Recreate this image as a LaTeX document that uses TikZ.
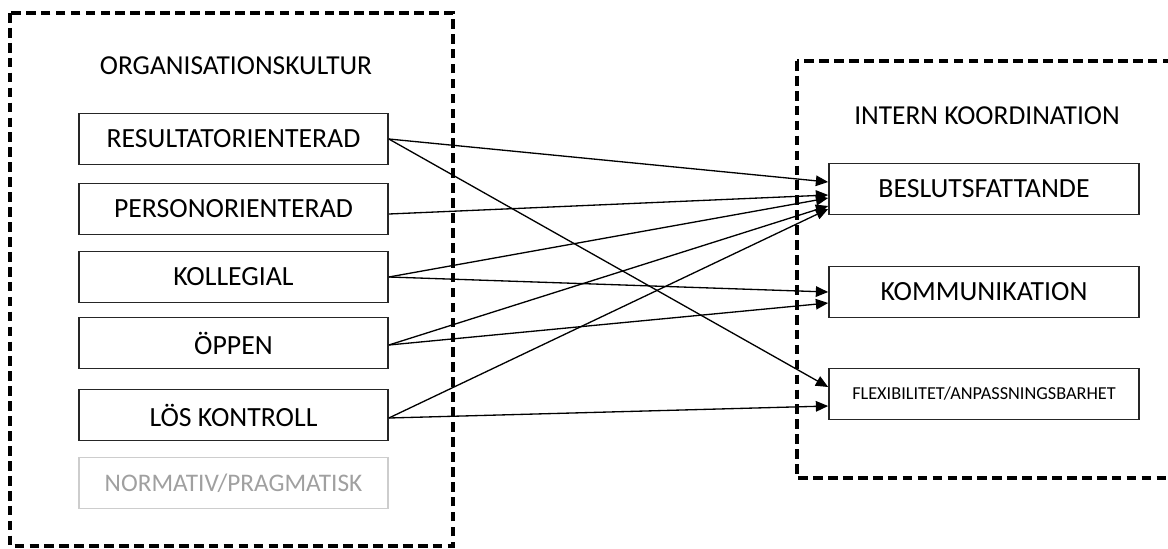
\documentclass[tikz,border=0pt]{standalone}
\usepackage{fontspec}
\setmainfont{Carlito}
\usetikzlibrary{arrows.meta,calc}
\definecolor{lightgrayborder}{RGB}{205,205,205}
\definecolor{graytext}{RGB}{160,160,160}
\tikzset{
  groupbox/.style={draw=black, line width=1.8pt, dash pattern=on 5.5pt off 3pt},
  itembox/.style={draw=black!85, line width=1pt, minimum width=6.18cm, minimum height=1.02cm, inner sep=0pt, font=\fontsize{15.8}{18}\selectfont},
  targetbox/.style={draw=black!85, line width=1pt, minimum width=6.2cm, minimum height=1.02cm, inner sep=0pt, font=\fontsize{15.8}{18}\selectfont},
  greybox/.style={draw=lightgrayborder, line width=1pt, minimum width=6.18cm, minimum height=1.02cm, inner sep=0pt, text=graytext, font=\fontsize{14.4}{17}\selectfont},
  titletext/.style={font=\fontsize{15.6}{18}\selectfont},
  link/.style={draw=black, line width=0.75pt, -{Triangle[length=7pt,width=6pt]}}
}
\begin{document}
\begin{tikzpicture}[x=0.02cm,y=-0.02cm]
\useasboundingbox (0,0) rectangle (1168,548);
\clip (0,0) rectangle (1168,548);
\fill[white] (0,0) rectangle (1168,548);
% group frames
\draw[groupbox] (10,13) rectangle (453,546);
\draw[groupbox] (797,61) rectangle (1180,478);
% titles
\node[titletext] (t1) at (236,66) {ORGANISATIONSKULTUR};
\node[titletext] (t2) at (987,116) {INTERN KOORDINATION};
% left items
\node[itembox] (res) at (233.5,139) {RESULTATORIENTERAD};
\node[itembox] (per) at (233.5,209) {PERSONORIENTERAD};
\node[itembox] (kol) at (233.5,277) {KOLLEGIAL};
\node[itembox] (opp) at (233.5,343) {ÖPPEN};
\node[itembox] (los) at (233.5,415) {LÖS KONTROLL};
\node[greybox] (nor) at (233.5,483) {NORMATIV/PRAGMATISK};
% right items
\node[targetbox] (bes) at (984,189) {BESLUTSFATTANDE};
\node[targetbox] (kom) at (984,292) {KOMMUNIKATION};
\node[targetbox, font=\fontsize{10.4}{12}\selectfont] (fle) at (984,394) {FLEXIBILITET/ANPASSNINGSBARHET};
% connectors
\draw[link] (res.east) -- ($(bes.west)+(0,-7)$);
\draw[link] (res.east) -- ($(fle.west)+(0,-7)$);
\draw[link] ($(per.east)+(0,5)$) -- ($(bes.west)+(0,6)$);
\draw[link] (kol.east) -- ($(bes.west)+(0,9)$);
\draw[link] (kol.east) -- ($(kom.west)+(0,0)$);
\draw[link] ($(opp.east)+(0,2)$) -- ($(bes.west)+(0,17)$);
\draw[link] ($(opp.east)+(0,2)$) -- ($(kom.west)+(0,11)$);
\draw[link] ($(los.east)+(0,3)$) -- ($(bes.west)+(0,20)$);
\draw[link] ($(los.east)+(0,3)$) -- ($(fle.west)+(0,12)$);
\end{tikzpicture}
\end{document}
